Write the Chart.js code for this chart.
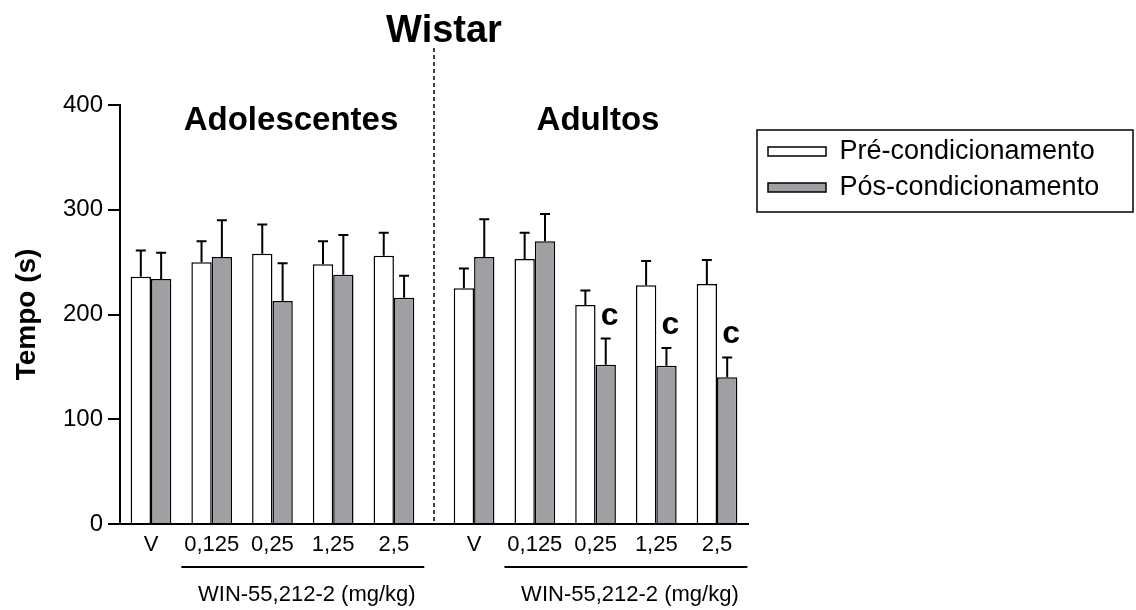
<!DOCTYPE html>
<html><head><meta charset="utf-8">
<script src="https://cdn.jsdelivr.net/npm/chart.js@4"></script>
<style>html,body{margin:0;padding:0;background:#fff;} #wrap{width:1136px;height:610px;position:relative;}</style>
</head><body><div id="wrap"><canvas id="c"></canvas></div>
<script>
// ---- data ----
const chartTitle = 'Wistar';
const ageGroups = ['Adolescentes', 'Adultos'];
const doseLabels = ['V', '0,125', '0,25', '1,25', '2,5'];
const doseAxisTitle = 'WIN-55,212-2 (mg/kg)';
const seriesNames = ['Pré-condicionamento', 'Pós-condicionamento'];
const preMean = [236, 250, 258, 248, 256, 225, 253, 209, 228, 229];
const preErr  = [25, 20, 28, 22, 22, 19, 25, 14, 23, 23];
const posMean = [234, 255, 213, 238, 216, 255, 270, 152, 151, 140];
const posErr  = [25, 35, 36, 38, 21, 36, 26, 25, 17, 19];
const posSig  = ['', '', '', '', '', '', '', 'c', 'c', 'c'];
const yTicks = [0, 100, 200, 300, 400];
const yTitle = 'Tempo (s)';

// ---- layout helpers ----
const FONT = '"Liberation Sans", Arial, Helvetica, sans-serif';
const GROUP_GAP = 0.32;
const nDose = doseLabels.length;
const xPos = [];
ageGroups.forEach((g, gi) => doseLabels.forEach((d, di) => xPos.push(gi * (nDose + GROUP_GAP) + di)));
const LEGEND_W = 388;
const GRAY = '#a0a0a4';

Chart.defaults.font.family = FONT;
Chart.defaults.color = '#000';

const errSets = [preErr, posErr];
const meanSets = [preMean, posMean];

const annot = {
  id: 'annot',
  afterInit(chart) {
    const lg = chart.legend;
    const f = lg.fit;
    lg.fit = function () { f.call(this); this.width = LEGEND_W; };
  },
  afterLayout(chart) {
    const lg = chart.legend;
    const dx = 759 - lg.left;
    lg.left += dx;
    lg.top = 129;
  },
  afterDatasetsDraw(chart) {
    const ctx = chart.ctx;
    const ys = chart.scales.y;
    ctx.save();
    ctx.strokeStyle = '#000';
    ctx.lineWidth = 2;
    chart.data.datasets.forEach((ds, di) => {
      const meta = chart.getDatasetMeta(di);
      meta.data.forEach((bar, i) => {
        const top = ys.getPixelForValue(meanSets[di][i] + errSets[di][i]);
        ctx.beginPath();
        ctx.moveTo(bar.x, bar.y);
        ctx.lineTo(bar.x, top);
        ctx.moveTo(bar.x - 5, top);
        ctx.lineTo(bar.x + 5, top);
        ctx.stroke();
        if (di === 1 && posSig[i]) {
          ctx.fillStyle = '#000';
          ctx.font = 'bold 32px ' + FONT;
          ctx.textAlign = 'center';
          ctx.textBaseline = 'alphabetic';
          ctx.fillText(posSig[i], bar.x + 4, top - 14);
        }
      });
    });
    ctx.restore();
  },
  afterDraw(chart) {
    const ctx = chart.ctx;
    const xs = chart.scales.x;
    const area = chart.chartArea;
    ctx.save();
    ctx.fillStyle = '#000';
    ctx.strokeStyle = '#000';
    // main title
    ctx.font = 'bold 38px ' + FONT;
    ctx.textAlign = 'center';
    ctx.textBaseline = 'alphabetic';
    ctx.fillText(chartTitle, 444, 42);
    // group labels
    ctx.font = 'bold 33px ' + FONT;
    const groupLabelX = [291, 598];
    ageGroups.forEach((g, gi) => ctx.fillText(g, groupLabelX[gi], 130));
    // dashed separator
    const sx = xs.getPixelForValue((xPos[nDose - 1] + xPos[nDose]) / 2);
    ctx.lineWidth = 1.5;
    ctx.setLineDash([4, 3]);
    ctx.beginPath();
    ctx.moveTo(sx, 48);
    ctx.lineTo(sx, area.bottom);
    ctx.stroke();
    ctx.setLineDash([]);
    // dose underlines + labels
    ctx.lineWidth = 2;
    ctx.font = '22px ' + FONT;
    ageGroups.forEach((g, gi) => {
      const x1 = xs.getPixelForValue(xPos[gi * nDose + 1] - 0.5);
      const x2 = xs.getPixelForValue(xPos[gi * nDose + nDose - 1] + 0.5);
      ctx.beginPath();
      ctx.moveTo(x1, 567);
      ctx.lineTo(x2, 567);
      ctx.stroke();
      ctx.fillText(doseAxisTitle, (x1 + x2) / 2 + 4, 601);
    });
    // legend frame
    ctx.lineWidth = 1.5;
    ctx.strokeRect(757, 130, 376, 82);
    ctx.restore();
  }
};

new Chart(document.getElementById('c'), {
  type: 'bar',
  data: {
    datasets: [
      { label: seriesNames[0], data: preMean.map((v, i) => ({ x: xPos[i], y: v })),
        backgroundColor: '#fff', borderColor: '#000', borderWidth: 1.5 },
      { label: seriesNames[1], data: posMean.map((v, i) => ({ x: xPos[i], y: v })),
        backgroundColor: GRAY, borderColor: '#000', borderWidth: 1.5 }
    ]
  },
  options: {
    responsive: true,
    maintainAspectRatio: false,
    animation: false,
    layout: { padding: { top: 105, left: 0, right: 0, bottom: 0 } },
    datasets: { bar: { categoryPercentage: 0.67, barPercentage: 1 } },
    plugins: {
      tooltip: { enabled: false },
      title: { display: false },
      legend: {
        position: 'right', align: 'start',
        labels: { boxWidth: 58, boxHeight: 9, padding: 9, color: '#000', font: { size: 27 } }
      }
    },
    scales: {
      x: {
        type: 'linear',
        offset: false,
        min: xPos[0] - 0.51,
        max: xPos[xPos.length - 1] + 0.51,
        grid: { display: false, drawTicks: false, offset: false },
        border: { display: true, color: '#000', width: 2 },
        afterBuildTicks: ax => { ax.ticks = xPos.map(v => ({ value: v })); },
        afterFit: ax => { ax.height = 86; },
        ticks: {
          autoSkip: false, maxRotation: 0, minRotation: 0, padding: 8,
          color: '#000', font: { size: 22 },
          callback: (v, i) => doseLabels[i % nDose]
        }
      },
      y: {
        min: 0, max: 400,
        afterBuildTicks: ax => { ax.ticks = yTicks.map(v => ({ value: v })); },
        afterFit: ax => { ax.width = 120; },
        grid: { drawOnChartArea: false, drawTicks: true, tickLength: 12, color: '#000', lineWidth: 2 },
        border: { display: true, color: '#000', width: 2 },
        ticks: { color: '#000', font: { size: 24 }, padding: 5 },
        title: { display: true, text: yTitle, color: '#000', font: { size: 28, weight: 'bold' }, padding: { top: 10, bottom: 0 } }
      }
    }
  },
  plugins: [annot]
});
</script>
</body></html>
